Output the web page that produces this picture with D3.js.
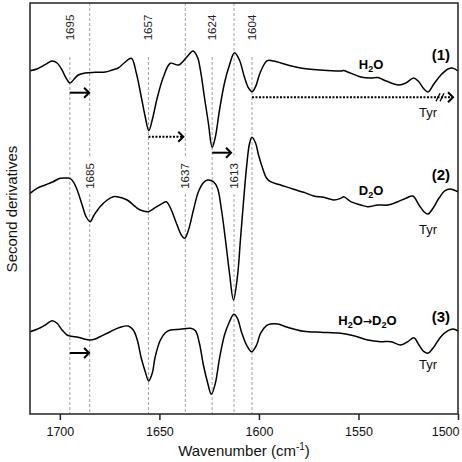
<!DOCTYPE html>
<html>
<head>
<meta charset="utf-8">
<script src="https://cdn.jsdelivr.net/npm/d3@7"></script>
<style>
  html, body { margin: 0; padding: 0; background: #fff; }
  svg { display: block; font-family: "Liberation Sans", Arial, Helvetica, sans-serif; }
</style>
</head>
<body>
<svg id="chart" width="462" height="462"></svg>
<script>
// ---------------- data ----------------
const xTicks = [1700, 1650, 1600, 1550, 1500];

// reference (dashed) lines: position, label, label row
const refPos    = [1695, 1685, 1655.5, 1637, 1623.5, 1612.5, 1603.5];
const refLabels = ["1695", "1685", "1657", "1637", "1624", "1613", "1604"];
const refRow    = ["top", "mid", "top", "mid", "top", "mid", "top"];

// second-derivative spectra (wavenumber, offset value in arbitrary units)
const specH2O = [
  [1715,343.3],[1711.5,345],[1707.4,349.3],[1703.9,353],[1701.4,351],[1698.9,344],
  [1696.9,336],[1694.9,331],[1692.8,335],[1690.8,339],[1687.3,341],[1682.3,341.7],
  [1677.2,342],[1673.7,344],[1670.7,346],[1667.7,351],[1664.1,355.7],[1661.6,341],
  [1659.1,317],[1657.1,297],[1655.3,283.3],[1653.6,294],[1651.1,316],[1648.0,337],
  [1644.5,350.7],[1640.3,349],[1636.1,357.3],[1633.1,363],[1630.9,357],[1629.4,344],
  [1627.4,317],[1625.4,291],[1623.5,266.7],[1621.9,277],[1619.8,304],[1617.3,331],
  [1614.8,349],[1612.3,361.3],[1609.8,354],[1607.3,337],[1605.2,326],[1603.4,322.3],
  [1601.7,327.3],[1599.2,342.3],[1595.8,353.3],[1592.6,353],[1585.6,349],[1579.1,346],
  [1569.0,344],[1558.9,343],[1557.4,343.5],[1555.4,342],[1548.8,337],[1543.8,336],
  [1540.3,336.5],[1537.3,334],[1532.2,330],[1529.7,329],[1526.2,331],[1522.2,336],
  [1519.6,332],[1517.1,325],[1515.1,322],[1512.1,330],[1508.6,339],[1505.0,345],
  [1503.0,346],[1500,343]
];
const specD2O = [
  [1715,220.7],[1711.5,225.7],[1707.4,229],[1703.4,232.3],[1699.9,235.7],[1696.4,236],
  [1694.9,235.7],[1693.3,232.3],[1691.3,224],[1688.8,209],[1686.8,197.3],[1684.8,192.3],
  [1682.8,199],[1679.8,207.3],[1676.2,214],[1673.2,217.3],[1671.2,217.3],[1666.2,214],
  [1662.1,207.3],[1659.6,204],[1655.6,202.3],[1652.1,206.3],[1648.5,210.7],[1646.5,212.3],
  [1644.0,204],[1641.5,191],[1639.0,179],[1637.3,175.7],[1635.4,184],[1632.9,204],
  [1630.4,222.3],[1627.9,231.3],[1625.9,234],[1622.9,232.3],[1620.8,225.7],[1618.8,204],
  [1616.8,174],[1614.8,141],[1612.8,114],[1610.8,137.3],[1609.3,174],[1607.8,211],
  [1606.2,247.3],[1604.7,270.7],[1603.5,276.7],[1601.7,271],[1600.2,259],[1598.2,246],
  [1596.2,236],[1594.2,232.3],[1589.1,229],[1582.6,224.7],[1577.5,221.7],[1572.5,218],
  [1567.5,216.7],[1562.4,214],[1558.9,215.7],[1557.4,217.3],[1553.9,212.3],[1548.8,209],
  [1545.3,207.3],[1540.3,209],[1535.2,209],[1530.2,212.3],[1526.2,215.7],[1522.7,218],
  [1519.6,209],[1517.1,202.3],[1515.1,200],[1512.6,205.7],[1509.6,215.7],[1506.5,223.3],
  [1504.0,225],[1502.0,224],[1500,222.3]
];
const specExch = [
  [1715,82.3],[1711.5,84.7],[1707.4,89],[1703.9,93.3],[1701.4,90.7],[1698.9,84],
  [1696.4,79],[1694.9,78],[1692.3,77.3],[1689.8,76.3],[1687.3,74.7],[1684.8,74],
  [1682.3,75],[1679.8,77.3],[1674.7,82.3],[1669.7,86.7],[1665.7,88],[1663.1,84],
  [1661.1,74],[1659.1,55.7],[1657.1,42.3],[1655.4,33],[1653.6,40.7],[1652.1,57.3],
  [1649.5,74],[1647.0,81.3],[1644.5,84],[1639.5,84.7],[1634.4,85.7],[1631.9,83.3],
  [1629.9,70.7],[1627.9,49],[1625.9,32.3],[1623.9,19.7],[1621.9,30.7],[1619.8,55.7],
  [1617.3,79],[1614.8,92.3],[1612.6,99.7],[1610.8,95.7],[1608.8,82.3],[1606.2,69],
  [1603.7,62.3],[1601.2,69],[1599.2,80.7],[1596.2,88.3],[1594.2,90],[1590.6,90],
  [1585.6,86.7],[1577.5,82.7],[1569.0,81.7],[1558.9,80.7],[1552.4,78.3],[1545.3,74],
  [1538.8,72.3],[1533.7,72.3],[1528.7,69],[1525.2,72.3],[1522.2,76.3],[1519.6,69],
  [1517.1,62.3],[1515.1,60.7],[1512.6,65.7],[1508.6,77.3],[1505.0,83.3],[1502.5,85],
  [1500,83]
];

// band-shift arrows: from, to, level, dotted
const arrowFrom   = [1695, 1655.5, 1623.5, 1603.5, 1695];
const arrowTo     = [1685.3, 1638, 1614, 1502.5, 1685.3];
const arrowLevel  = [321.3, 277.3, 261.3, 316.7, 61];
const arrowDotted = [false, true, false, true, false];

// spectrum labels
const specNames  = [["H", "2", "O"], ["D", "2", "O"], ["H", "2", "O", "\u2192", "D", "2", "O"]];
const specNums   = ["(1)", "(2)", "(3)"];
const nameLevels = [345, 219, 89];
const numLevels  = [354, 234, 92];
const tyrLevels  = [297, 180, 45];

// ---------------- chart ----------------
const svg = d3.select("#chart");
const x = d3.scaleLinear().domain([1715, 1500]).range([30, 458]);
const y = d3.scaleLinear().domain([0, 411]).range([414, 3]);

// reference dashed lines
const segs = {top: [[357, 0]], mid: [[411, 256], [220, 0]]};
refPos.forEach((p, i) => {
  segs[refRow[i]].forEach(s => {
    svg.append("line")
      .attr("x1", x(p)).attr("x2", x(p))
      .attr("y1", y(s[0])).attr("y2", y(s[1]))
      .attr("stroke", "#8a8a8a").attr("stroke-width", 0.8)
      .attr("stroke-dasharray", "3,2");
  });
  const ly = refRow[i] === "top" ? y(386.5) : y(238);
  svg.append("text")
    .attr("transform", `translate(${x(p) + 4},${ly}) rotate(-90)`)
    .attr("text-anchor", "middle")
    .attr("font-size", 11.5).attr("fill", "#222")
    .text(refLabels[i]);
});

// spectra
const line = d3.line()
  .x(d => x(d[0])).y(d => y(d[1]))
  .curve(d3.curveCatmullRom.alpha(0.5));
[specH2O, specD2O, specExch].forEach(s => {
  svg.append("path").attr("d", line(s))
    .attr("fill", "none").attr("stroke", "#000")
    .attr("stroke-width", 1.5).attr("stroke-linejoin", "round");
});

// arrows
arrowFrom.forEach((f, i) => {
  const x1 = x(f), x2 = x(arrowTo[i]), yy = y(arrowLevel[i]);
  svg.append("line")
    .attr("x1", x1).attr("x2", x2 - 1).attr("y1", yy).attr("y2", yy)
    .attr("stroke", "#000").attr("stroke-width", 2)
    .attr("stroke-dasharray", arrowDotted[i] ? "2,1.5" : null);
  svg.append("path")
    .attr("d", `M${x2 - 5},${yy - 5}L${x2},${yy}L${x2 - 5},${yy + 5}`)
    .attr("fill", "none").attr("stroke", "#000").attr("stroke-width", 2);
  if (i === 3) {
    [-3, 1].forEach(o => {
      svg.append("line")
        .attr("x1", x2 - 14 + o).attr("y1", yy + 4)
        .attr("x2", x2 - 10 + o).attr("y2", yy - 4)
        .attr("stroke", "#000").attr("stroke-width", 1.3);
    });
  }
});

// names, numbers, Tyr
specNames.forEach((parts, i) => {
  const t = svg.append("text")
    .attr("x", i === 2 ? x(1545.5) : x(1543.7)).attr("y", y(nameLevels[i]))
    .attr("text-anchor", "middle").attr("font-size", 13).attr("font-weight", "bold");
  let shifted = 0;
  parts.forEach(p => {
    if (p === "2") {
      t.append("tspan").attr("font-size", 9).attr("dy", 3).text("2");
      shifted = 3;
    } else if (p === "\u2192") {
      t.append("tspan").attr("dy", -shifted).attr("font-family", "DejaVu Sans")
        .attr("font-size", 11).text(p);
      shifted = 0;
    } else {
      t.append("tspan").attr("dy", -shifted).text(p);
      shifted = 0;
    }
  });
  svg.append("text")
    .attr("x", x(1508.6)).attr("y", y(numLevels[i]))
    .attr("text-anchor", "middle").attr("font-size", 15).attr("font-weight", "bold")
    .text(specNums[i]);
  svg.append("text")
    .attr("x", x(1515)).attr("y", y(tyrLevels[i]))
    .attr("text-anchor", "middle").attr("font-size", 13).attr("fill", "#111")
    .text("Tyr");
});

// frame
svg.append("rect")
  .attr("x", 30).attr("y", 3).attr("width", 428).attr("height", 411)
  .attr("fill", "none").attr("stroke", "#222").attr("stroke-width", 1.5);

// x axis
const ax = svg.append("g").attr("transform", "translate(0,414)")
  .call(d3.axisBottom(x).tickValues(xTicks).tickSize(6).tickSizeOuter(0).tickPadding(7).tickFormat(d3.format("d")));
ax.select(".domain").remove();
ax.selectAll(".tick line").attr("stroke", "#222").attr("stroke-width", 1.5);
ax.selectAll(".tick text").attr("font-size", 12.5).attr("fill", "#111")
  .attr("font-family", "Liberation Sans, Arial, sans-serif")
  .attr("text-anchor", d => d === xTicks[xTicks.length - 1] ? "end" : "middle")
  .attr("dx", d => d === xTicks[xTicks.length - 1] ? 1 : 0);

// axis titles
const xt = svg.append("text").attr("x", 244).attr("y", 455.5)
  .attr("text-anchor", "middle").attr("font-size", 15).attr("fill", "#111");
xt.append("tspan").text("Wavenumber (cm");
xt.append("tspan").attr("font-size", 10).attr("dy", -6).text("-1");
xt.append("tspan").attr("dy", 6).text(")");

svg.append("text")
  .attr("transform", "translate(17,209) rotate(-90)")
  .attr("text-anchor", "middle").attr("font-size", 15).attr("fill", "#111")
  .text("Second derivatives");
</script>
</body>
</html>
